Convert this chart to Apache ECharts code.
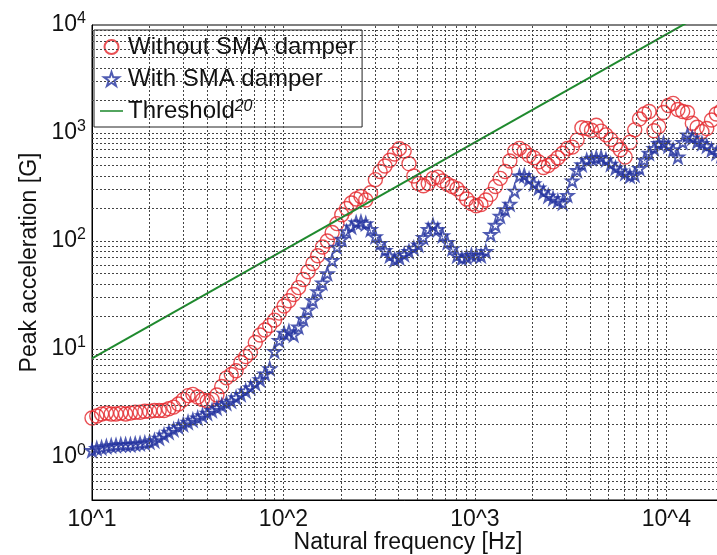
<!DOCTYPE html>
<html>
<head>
<meta charset="utf-8">
<script src="https://cdn.jsdelivr.net/npm/echarts@6/dist/echarts.min.js"></script>
<style>
html,body{margin:0;padding:0;background:#fff;}
#chart{width:717px;height:555px;}
</style>
</head>
<body>
<div id="chart"></div>
<script>
// Natural frequency [Hz]
const freq = [10, 10.59, 11.22, 11.89, 12.6, 13.35, 14.14, 14.98, 15.87, 16.82, 17.82, 18.88,
 20, 21.19, 22.45, 23.78, 25.2, 26.7, 28.28, 29.97, 31.75, 33.64, 35.64, 37.76,
 40, 42.38, 44.9, 47.57, 50.4, 53.39, 56.57, 59.93, 63.5, 67.27, 71.27, 75.51,
 80, 84.76, 89.8, 95.14, 100.8, 106.8, 113.1, 119.9, 127, 134.5, 142.5, 151,
 160, 169.5, 179.6, 190.3, 201.6, 213.6, 226.3, 239.7, 254, 269.1, 285.1, 302,
 320, 339, 359.2, 380.6, 403.2, 427.2, 452.5, 479.5, 508, 538.2, 570.2, 604.1,
 640, 678.1, 718.4, 761.1, 806.3, 854.3, 905.1, 958.9, 1016, 1076, 1140, 1208,
 1280, 1356, 1437, 1522, 1613, 1709, 1810, 1918, 2032, 2153, 2281, 2416,
 2560, 2712, 2874, 3044, 3225, 3417, 3620, 3836, 4064, 4305, 4561, 4833,
 5120, 5424, 5747, 6089, 6451, 6834, 7241, 7671, 8127, 8611, 9123, 9665,
 10240, 10850, 11490, 12170, 12900, 13660, 14480, 15340, 16250, 17220, 18240, 19320];

// Peak acceleration [G] without SMA damper
const withoutSMA = [2.3, 2.4, 2.5, 2.55, 2.5, 2.5, 2.55, 2.5, 2.55, 2.6, 2.6, 2.65,
 2.65, 2.7, 2.7, 2.7, 2.8, 2.9, 3.1, 3.4, 3.7, 3.8, 3.6, 3.4,
 3.3, 3.4, 3.75, 4.5, 5.4, 5.8, 6.3, 7.5, 8.5, 9.3, 11.5, 13.5,
 15, 16.5, 18.5, 21.5, 25, 28, 32, 37, 44, 52, 62, 73,
 88, 100, 120, 145, 175, 200, 225, 245, 258, 240, 280, 370,
 440, 495, 560, 640, 715, 680, 520, 400, 340, 325, 340, 380,
 390, 360, 335, 320, 305, 275, 245, 222, 212, 218, 240, 270,
 320, 380, 440, 550, 680, 720, 680, 620, 590, 540, 480, 500,
 540, 590, 650, 720, 740, 860, 1120, 1100, 1060, 1180, 1040, 960,
 870, 780, 700, 600, 820, 1070, 1350, 1500, 1580, 1050, 1150, 1550,
 1800, 1880, 1650, 1580, 1550, 1230, 1130, 1030, 1100, 1320, 1500, 1600];

// Peak acceleration [G] with SMA damper
const withSMA = [1.15, 1.2, 1.22, 1.25, 1.27, 1.28, 1.3, 1.3, 1.3, 1.32, 1.33, 1.35,
 1.38, 1.42, 1.5, 1.6, 1.7, 1.8, 1.9, 2.0, 2.1, 2.2, 2.3, 2.42,
 2.55, 2.7, 2.85, 3.0, 3.15, 3.3, 3.55, 3.8, 4.1, 4.4, 4.8, 5.2,
 5.9, 6.6, 9.5, 12, 14, 14.5, 13.5, 16, 19, 23, 28, 34,
 41, 50, 66, 88, 104, 122, 135, 148, 150, 145, 128, 110,
 95, 82, 73, 67, 70, 75, 80, 86, 92, 108, 128, 140,
 128, 112, 97, 85, 73, 69, 71, 74, 74, 73, 80, 115,
 140, 170, 195, 220, 290, 400, 405, 375, 340, 310, 285, 262,
 248, 235, 225, 265, 360, 450, 510, 560, 580, 590, 595, 565,
 515, 475, 445, 425, 400, 410, 470, 560, 650, 720, 800, 810,
 760, 700, 600, 820, 960, 900, 830, 800, 760, 700, 650, 620];

// Threshold line (two end points)
const thresholdFreq = [10, 20000];
const thresholdAccel = [8.2, 16400];

// Axis ranges
const xMin = 10, xMax = 20000;
const yMin = 0.4, yMax = 10000;

// Grid line positions (1..9 x 10^k inside ranges)
const xGridValues = [];
for (let d = 10; d <= 10000; d *= 10) for (let m = 1; m <= 9; m++) { const v = m * d; if (v > xMin && v < xMax) xGridValues.push(v); }
const yGridValues = [];
for (let d = 0.1; d <= 1000.1; d *= 10) for (let m = 1; m <= 9; m++) { const v = +(m * d).toPrecision(3); if (v > yMin && v < yMax) yGridValues.push(v); }

const FONT = '"Liberation Sans", Arial, sans-serif';
const RED = '#e3262a';
const BLUE = '#23329f';
const GREEN = '#1f8a2e';
const STAR = 'path://M50,2 L61.2,36.5 L97.6,36.5 L68.2,57.9 L79.4,92.5 L50,71.1 L20.6,92.5 L31.8,57.9 L2.4,36.5 L38.8,36.5 Z';
const LINE_ICON = 'path://M0,0 H30 V2 H0 Z';

function isPow10(v) {
  const l = Math.log10(v);
  return Math.abs(l - Math.round(l)) < 1e-6;
}

const chart = echarts.init(document.getElementById('chart'), null, { renderer: 'canvas' });
const gridLineStyle = { color: '#444', type: [2, 2], width: 1 };

chart.setOption({
  animation: false,
  backgroundColor: '#fff',
  grid: { left: 92, top: 25, width: 632, height: 475, outerBoundsMode: 'none', containLabel: false, show: true, borderColor: '#000', borderWidth: 1, backgroundColor: 'transparent' },
  legend: {
    orient: 'vertical',
    left: 94, top: 30,
    padding: [5, 6, 4, 6],
    itemGap: 8,
    itemWidth: 23, itemHeight: 14,
    backgroundColor: '#fff',
    borderColor: '#222', borderWidth: 1,
    data: ['Without SMA damper', 'With SMA damper', { name: 'Threshold', icon: LINE_ICON }],
    textStyle: {
      fontFamily: FONT, fontSize: 24, color: '#111', lineHeight: 24,
      rich: {
        s: { fontFamily: FONT, fontSize: 16, fontStyle: 'italic', color: '#111', verticalAlign: 'top', lineHeight: 24, padding: [0, 0, 8, 0] }
      }
    },
    formatter: function (name) {
      if (name === 'Threshold') return 'Threshold{s|20}';
      return name;
    }
  },
  xAxis: {
    type: 'log', logBase: 10, min: xMin, max: xMax,
    name: 'Natural frequency [Hz]', nameLocation: 'middle', nameGap: 31, nameMoveOverlap: false,
    nameTextStyle: { fontFamily: FONT, fontSize: 23, color: '#111' },
    axisLine: { show: true, lineStyle: { color: '#000', width: 1 } },
    axisTick: { show: false },
    splitLine: { show: false },
    axisLabel: {
      fontFamily: FONT, fontSize: 23, color: '#111', margin: 8,
      formatter: function (v) { return isPow10(v) ? '10^' + Math.round(Math.log10(v)) : ''; }
    }
  },
  yAxis: {
    type: 'log', logBase: 10, min: yMin, max: yMax,
    name: 'Peak acceleration [G]', nameLocation: 'middle', nameGap: 51, nameMoveOverlap: false,
    nameTextStyle: { fontFamily: FONT, fontSize: 23, color: '#111' },
    axisLine: { show: true, lineStyle: { color: '#000', width: 1 } },
    axisTick: { show: false },
    splitLine: { show: false },
    axisLabel: {
      fontFamily: FONT, fontSize: 23, color: '#111', margin: 6,
      formatter: function (v) { return isPow10(v) ? '10{s|' + Math.round(Math.log10(v)) + '}' : ''; },
      rich: {
        s: { fontFamily: FONT, fontSize: 16, color: '#111', verticalAlign: 'top', padding: [0, 0, 12, 0] }
      }
    }
  },
  series: [
    {
      name: 'gridlines', type: 'scatter', data: [], z: 0, silent: true,
      markLine: {
        silent: true, symbol: ['none', 'none'], animation: false,
        label: { show: false },
        lineStyle: gridLineStyle,
        emphasis: { disabled: true },
        data: xGridValues.map(v => ({ xAxis: v })).concat(yGridValues.map(v => ({ yAxis: v })))
      }
    },
    {
      name: 'Without SMA damper', type: 'scatter', z: 2,
      symbol: 'circle', symbolSize: 14,
      itemStyle: { color: 'rgba(0,0,0,0)', borderColor: RED, borderWidth: 1.4 },
      data: freq.map((f, i) => [f, withoutSMA[i]])
    },
    {
      name: 'With SMA damper', type: 'scatter', z: 3,
      symbol: STAR, symbolSize: 12,
      itemStyle: { color: 'rgba(0,0,0,0)', borderColor: BLUE, borderWidth: 1.9 },
      data: freq.map((f, i) => [f, withSMA[i]])
    },
    {
      name: 'Threshold', type: 'line', z: 4, symbol: 'none', clip: true,
      lineStyle: { color: GREEN, width: 2 },
      itemStyle: { color: GREEN },
      data: thresholdFreq.map((f, i) => [f, thresholdAccel[i]])
    }
  ]
});
</script>
</body>
</html>
